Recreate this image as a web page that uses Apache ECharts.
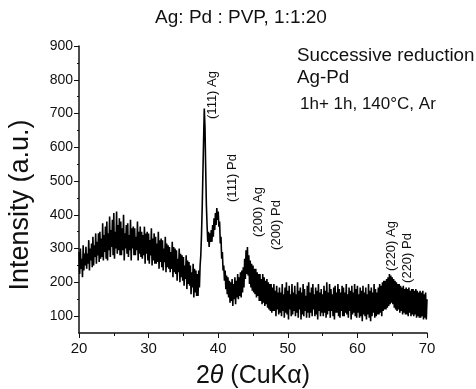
<!DOCTYPE html>
<html>
<head>
<meta charset="utf-8">
<script src="https://cdn.jsdelivr.net/npm/echarts@6/dist/echarts.min.js"></script>
<style>html,body{margin:0;padding:0;background:#fff;}#c{width:476px;height:389px;}</style>
</head>
<body>
<div id="c"></div>
<script>
// Measurement grid: 2theta from 20.0 to 70.0 deg, 0.1 deg step
var startAngle = 20.0;
var stepAngle = 0.1;

// Intensity values, one row per degree (x.0 ... x.9)
var intensity = [
 290,225,300,240,270,215,310,235,285,250, // 20
 305,240,285,255,325,235,300,265,315,245, // 21
 335,250,310,275,345,255,320,280,345,260, // 22
 350,270,330,275,375,265,340,290,365,270, // 23
 380,265,345,295,395,275,355,305,385,280, // 24
 405,270,350,300,410,285,370,295,390,280, // 25
 380,280,360,295,400,265,345,300,370,285, // 26
 375,275,340,295,385,265,360,300,365,280, // 27
 360,280,335,295,380,265,350,285,365,275, // 28
 350,270,340,280,365,255,345,285,350,265, // 29
 345,255,325,280,360,250,330,265,345,255, // 30
 335,255,315,260,350,240,325,260,330,245, // 31
 325,235,300,260,335,230,315,245,310,240, // 32
 305,230,290,240,320,215,305,230,300,225, // 33
 295,205,270,230,300,200,285,215,280,205, // 34
 275,190,250,210,280,180,265,195,260,190, // 35
 250,165,230,185,255,155,240,170,235,160, // 36
 225,160,235,185,250,280,340,420,520,620, // 37
 715,660,540,430,370,320,350,305,345,320, // 38
 355,320,370,335,390,355,405,370,420,385, // 39
 410,365,380,315,335,270,290,235,250,205, // 40
 235,180,220,165,215,155,205,140,200,145, // 41
 210,130,195,150,215,135,205,155,225,150, // 42
 215,160,230,155,235,170,245,185,270,210, // 43
 295,225,305,220,280,195,265,185,255,175, // 44
 250,170,240,165,240,155,230,160,225,145, // 45
 225,145,210,135,225,140,215,130,205,135, // 46
 210,125,200,120,195,115,195,110,185,115, // 47
 195,115,175,100,190,120,170,105,185,110, // 48
 170,100,195,115,165, 95,185,110,200,105, // 49
 175, 90,190,120,165,100,195,105,170,115, // 50
 190,100,165,110,200, 95,175,120,185, 90, // 51
 170,105,195,100,180,115,160, 95,190,110, // 52
 200, 95,170,110,185,100,195,120,165,100, // 53
 185,105,175, 90,195,115,170,100,180,110, // 54
 165,100,190,110,175, 95,200,105,170,115, // 55
 195, 95,180,115,165,100,185, 90,190,110, // 56
 170,110,195,100,180, 95,170,115,190,100, // 57
 185,100,170,110,195,105,165, 95,185,115, // 58
 175, 90,190,105,170,110,195,100,180, 95, // 59
 190,110,165, 95,185,100,175, 85,190,105, // 60
 170,100,185, 90,165,105,195, 95,175, 85, // 61
 185,100,170,110,195, 95,180,100,170,105, // 62
 185,105,195,110,190,100,200,115,205,120, // 63
 205,120,210,125,215,130,225,135,220,140, // 64
 215,135,210,125,205,120,200,115,195,120, // 65
 195,110,190,115,185,105,190,110,180,105, // 66
 185,105,180,100,185,110,175,100,180,105, // 67
 180,100,175,105,180, 95,175,100,170, 95, // 68
 175, 95,170,100,175, 90,165, 95,170, 90, // 69
 150                                      // 70
];

var xTicks = [20, 30, 40, 50, 60, 70];
var yTickLabels = [100, 200, 300, 400, 500, 600, 700, 800, 900];
var yMinorTicks = [150, 250, 350, 450, 550, 650, 750, 850];

var titleText = 'Ag: Pd : PVP, 1:1:20';
var noteLines = ['Successive reduction', 'Ag-Pd', '1h+ 1h, 140\u00B0C, Ar'];
var peakLabels = ['(111) Ag', '(111) Pd', '(200) Ag', '(200) Pd', '(220) Ag', '(220) Pd'];

var seriesData = intensity.map(function (v, i) {
  return [Math.round((startAngle + i * stepAngle) * 10) / 10, v];
});

var FONT = 'Liberation Sans, Arial, Helvetica, sans-serif';

var chart = echarts.init(document.getElementById('c'), null, {renderer: 'canvas'});

var peakPos = [[212, 95], [232, 178], [258, 212], [276, 225], [391, 246], [407, 258]];

var graphics = [
  {type: 'text', x: 241, y: 18, style: {text: titleText, font: '19px ' + FONT, fill: '#111', textAlign: 'center', textVerticalAlign: 'middle'}},
  {type: 'text', x: 297, y: 56, style: {text: noteLines[0], font: '18.8px ' + FONT, fill: '#111', textAlign: 'left', textVerticalAlign: 'middle'}},
  {type: 'text', x: 297, y: 78, style: {text: noteLines[1], font: '18.8px ' + FONT, fill: '#111', textAlign: 'left', textVerticalAlign: 'middle'}},
  {type: 'text', x: 300, y: 104, style: {text: noteLines[2], font: '17px ' + FONT, fill: '#111', textAlign: 'left', textVerticalAlign: 'middle'}},
  {type: 'text', x: 21, y: 205, rotation: Math.PI / 2, style: {text: 'Intensity (a.u.)', font: '27px ' + FONT, fill: '#111', textAlign: 'center', textVerticalAlign: 'middle'}}
];
peakLabels.forEach(function (t, i) {
  graphics.push({type: 'text', x: peakPos[i][0], y: peakPos[i][1], rotation: Math.PI / 2,
    style: {text: t, font: '13px ' + FONT, fill: '#111', textAlign: 'center', textVerticalAlign: 'middle'}});
});

chart.setOption({
  animation: false,
  backgroundColor: '#fff',
  grid: {left: 79, right: 49, top: 46, bottom: 56, containLabel: false, outerBoundsMode: 'none'},
  xAxis: {
    type: 'value', min: 20, max: 70, interval: 10,
    axisLine: {show: true, lineStyle: {color: '#111', width: 1.5}},
    axisTick: {show: true, inside: false, length: 5, lineStyle: {color: '#111'}},
    minorTick: {show: true, splitNumber: 2, length: 3, lineStyle: {color: '#111'}},
    splitLine: {show: false},
    axisLabel: {color: '#111', fontSize: 15, fontFamily: FONT, margin: 8, customValues: xTicks},
    name: '{a|2}{t|\u03B8}{a| (CuK\u03B1)}',
    nameLocation: 'middle', nameGap: 31,
    nameTextStyle: {rich: {a: {fontSize: 25, fontFamily: FONT, color: '#111'}, t: {fontSize: 25, fontFamily: FONT, fontStyle: 'italic', color: '#111'}}}
  },
  yAxis: [{
    type: 'value', min: 50, max: 900,
    axisLine: {show: true, lineStyle: {color: '#111', width: 1.5}},
    axisTick: {show: true, inside: false, length: 5, customValues: yTickLabels, lineStyle: {color: '#111'}},
    splitLine: {show: false},
    axisLabel: {color: '#111', fontSize: 14, fontFamily: FONT, margin: 6, customValues: yTickLabels}
  }, {
    type: 'value', min: 50, max: 900, position: 'left',
    axisLine: {show: false},
    axisTick: {show: true, inside: false, length: 2, customValues: yMinorTicks, lineStyle: {color: '#111'}},
    axisLabel: {show: false},
    splitLine: {show: false}
  }],
  series: [{
    type: 'line', data: seriesData, showSymbol: false, symbol: 'none',
    lineStyle: {color: '#000', width: 1.6}, yAxisIndex: 0, silent: true
  }],
  graphic: graphics
});
</script>
</body>
</html>
